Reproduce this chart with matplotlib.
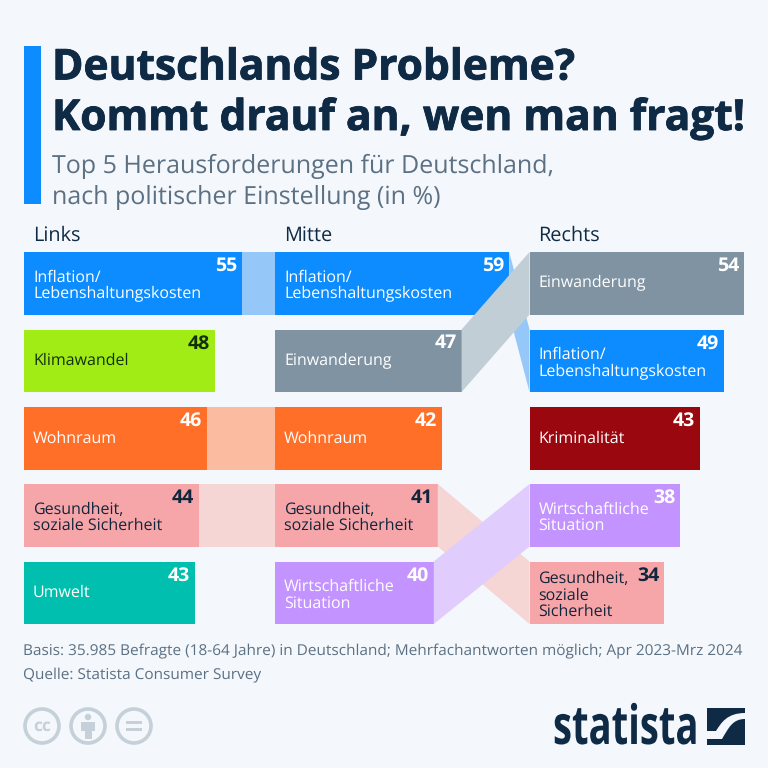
import matplotlib
matplotlib.use('Agg')
import matplotlib.pyplot as plt
from matplotlib.patches import Polygon, Circle, Rectangle, PathPatch
from matplotlib.path import Path
from matplotlib.patheffects import AbstractPathEffect, withStroke
from matplotlib.transforms import Affine2D

plt.rcParams['font.family'] = ['Open Sans', 'DejaVu Sans']
plt.rcParams['text.hinting'] = 'no_hinting'

# Werte pro Spalte, von oben nach unten
links_labels = ['Inflation/\nLebenshaltungskosten', 'Klimawandel', 'Wohnraum', 'Gesundheit,\nsoziale Sicherheit', 'Umwelt']
links_values = [55, 48, 46, 44, 43]
mitte_labels = ['Inflation/\nLebenshaltungskosten', 'Einwanderung', 'Wohnraum', 'Gesundheit,\nsoziale Sicherheit', 'Wirtschaftliche\nSituation']
mitte_values = [59, 47, 42, 41, 40]
rechts_labels = ['Einwanderung', 'Inflation/\nLebenshaltungskosten', 'Kriminalität', 'Wirtschaftliche\nSituation', 'Gesundheit,\nsoziale\nSicherheit']
rechts_values = [54, 49, 43, 38, 34]
column_names = ['Links', 'Mitte', 'Rechts']

BG = '#F4F7FB'
NAVY = '#0F2A45'
GREY_TEXT = '#5B7083'
PX = 3.97  # Pixel pro Prozentpunkt

colors = {'Inflation': '#0C8CFF', 'Klimawandel': '#A0EC14', 'Wohnraum': '#FF6F27', 'Gesundheit': '#F6A6A9',
          'Umwelt': '#00BFAE', 'Einwanderung': '#7F93A3', 'Kriminalität': '#9A070F', 'Wirtschaftliche': '#C394FF'}
light = {'Inflation': '#95C8F9', 'Wohnraum': '#FBBBA0', 'Gesundheit': '#F6D5D5',
         'Einwanderung': '#C2CED6', 'Wirtschaftliche': '#E0CCFD'}
dark_text = ['Klimawandel', 'Gesundheit']

col_x = [24, 275, 529.5]
row_top = [252, 329.5, 407, 484, 561.5]
row_h = 62.5


def key(label):
    return label.split('/')[0].split(',')[0].split('\n')[0]


class Squeeze(AbstractPathEffect):
    # schmaler Schnitt fürs Logo, der Text bleibt echter Text
    def __init__(self, sx, x_px):
        self.sx = sx
        self.x_px = x_px

    def draw_path(self, renderer, gc, tpath, affine, rgbFace=None):
        squeeze = Affine2D().translate(-self.x_px, 0).scale(self.sx, 1).translate(self.x_px, 0)
        renderer.draw_path(gc, tpath, affine + squeeze, rgbFace)


fig = plt.figure(figsize=(7.68, 7.68), dpi=100, facecolor=BG)
ax = fig.add_axes([0, 0, 1, 1])
ax.set_xlim(0, 768)
ax.set_ylim(768, 0)
ax.axis('off')

columns = [(links_labels, links_values), (mitte_labels, mitte_values), (rechts_labels, rechts_values)]

# Balken
for c, (labels, values) in enumerate(columns):
    for r, (lab, val) in enumerate(zip(labels, values)):
        k = key(lab)
        ax.barh(row_top[r] + row_h / 2, val * PX, height=row_h, left=col_x[c], color=colors[k], zorder=2)

# Verbindungsbänder, Reihenfolge wie im Original (grau und lila liegen oben)
for c in range(2):
    labels, values = columns[c]
    next_labels = columns[c + 1][0]
    for r in [2, 3, 0, 4, 1]:
        k = key(labels[r])
        match = [i for i, n in enumerate(next_labels) if key(n) == k]
        if not match:
            continue
        x0 = col_x[c] + values[r] * PX
        x1 = col_x[c + 1]
        t = match[0]
        ax.add_patch(Polygon([(x0, row_top[r]), (x1, row_top[t]), (x1, row_top[t] + row_h), (x0, row_top[r] + row_h)],
                             closed=True, fc=light[k], ec='none', zorder=3))

# Beschriftung
for c, (labels, values) in enumerate(columns):
    ax.text(col_x[c] + 9, 236, column_names[c], fontsize=14.3, fontweight='medium', color=NAVY, va='center', zorder=5)
    for r, (lab, val) in enumerate(zip(labels, values)):
        k = key(lab)
        tc = '#10263C' if k in dark_text else 'white'
        if k == 'Klimawandel':
            tc = '#12300A'
        cy = row_top[r] + row_h / 2
        shift = 0 if '\n' not in lab else 2.5
        ax.text(col_x[c] + 9, cy + shift, lab, fontsize=11.5, color=tc, va='center', linespacing=1.07, zorder=5)
        ax.text(col_x[c] + val * PX - 5, row_top[r] + 14, str(val), fontsize=14, fontweight='bold', color=tc,
                ha='right', va='center', zorder=5)

# Kopfbereich
ax.add_patch(Rectangle((24, 46), 17, 158, fc='#0C8CFF', ec='none'))
heavy = [withStroke(linewidth=0.6, foreground=NAVY)]
ax.text(52, 79.5, 'Deutschlands Probleme?', fontsize=30.6, fontweight='bold', color=NAVY, va='baseline', path_effects=heavy)
ax.text(52, 130, 'Kommt drauf an, wen man fragt!', fontsize=30.6, fontweight='bold', color=NAVY, va='baseline', path_effects=heavy)
ax.text(52, 166.5, 'Top 5 Herausforderungen für Deutschland,', fontsize=18, color=GREY_TEXT, va='center')
ax.text(52, 197.5, 'nach politischer Einstellung (in %)', fontsize=18, color=GREY_TEXT, va='center')

# Fußzeile
ax.text(23, 651, 'Basis: 35.985 Befragte (18-64 Jahre) in Deutschland; Mehrfachantworten möglich; Apr 2023-Mrz 2024',
        fontsize=11.07, color=GREY_TEXT, va='center')
ax.text(23, 675.5, 'Quelle: Statista Consumer Survey', fontsize=11.07, color=GREY_TEXT, va='center')

# CC-Symbole
ICON = '#C5D0D9'
for cx in [42, 88, 134]:
    ax.add_patch(Circle((cx, 726), 17, fc='none', ec=ICON, lw=2.6))
ax.text(42, 726, 'cc', fontsize=12.5, fontweight='bold', color=ICON, ha='center', va='center')
ax.add_patch(Circle((88, 717), 3.2, fc=ICON, ec='none'))
ax.add_patch(Rectangle((81, 722), 14, 9, fc=ICON, ec='none'))
ax.add_patch(Rectangle((84.5, 722), 7, 17, fc=ICON, ec='none'))
ax.add_patch(Rectangle((126, 720.5), 16, 3.2, fc=ICON, ec='none'))
ax.add_patch(Rectangle((126, 728), 16, 3.2, fc=ICON, ec='none'))

# Logo
ax.text(553, 744, 'statista', fontsize=39, fontweight='bold', color=NAVY, ha='left', va='baseline',
        path_effects=[Squeeze(0.705, 553)])
ax.add_patch(Rectangle((707, 707.5), 38, 37, fc=NAVY, ec='none'))
swoosh = Path([(707, 731), (716, 731), (721, 723), (727, 713), (745, 713),
               (745, 719), (733, 719), (729, 727), (722, 739), (707, 739), (707, 731)],
              [Path.MOVETO, Path.LINETO, Path.CURVE4, Path.CURVE4, Path.CURVE4,
               Path.LINETO, Path.CURVE4, Path.CURVE4, Path.CURVE4, Path.LINETO, Path.CLOSEPOLY])
ax.add_patch(PathPatch(swoosh, fc=BG, ec='none'))

fig.savefig('out.png', dpi=100, facecolor=BG)
